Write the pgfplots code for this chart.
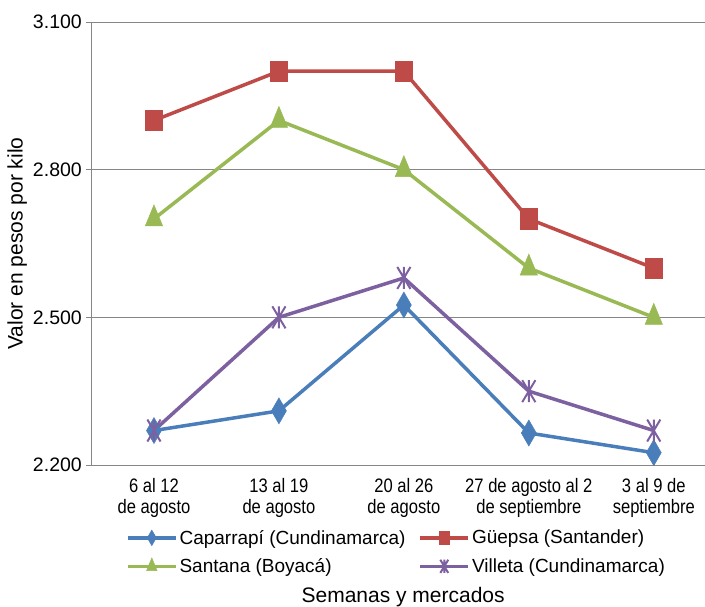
\documentclass[border=0pt]{standalone}
\usepackage{pgfplots}
\pgfplotsset{compat=1.18}
\usepackage{fontspec}
\setmainfont{Liberation Sans}
\newfontfamily\narrowfont[FakeStretch=0.85]{Liberation Sans}

\definecolor{cblue}{RGB}{74,126,187}
\definecolor{cred}{RGB}{190,75,72}
\definecolor{cgreen}{RGB}{152,185,84}
\definecolor{cpurple}{RGB}{125,96,160}
\definecolor{gridgray}{RGB}{134,134,134}

% Excel-style star marker: an X plus a vertical bar
\pgfdeclareplotmark{xstar}{%
  \pgfpathmoveto{\pgfqpoint{-0.6\pgfplotmarksize}{-\pgfplotmarksize}}%
  \pgfpathlineto{\pgfqpoint{0.6\pgfplotmarksize}{\pgfplotmarksize}}%
  \pgfpathmoveto{\pgfqpoint{-0.6\pgfplotmarksize}{\pgfplotmarksize}}%
  \pgfpathlineto{\pgfqpoint{0.6\pgfplotmarksize}{-\pgfplotmarksize}}%
  \pgfpathmoveto{\pgfqpoint{0pt}{-\pgfplotmarksize}}%
  \pgfpathlineto{\pgfqpoint{0pt}{\pgfplotmarksize}}%
  \pgfusepathqstroke}

\begin{document}
\begin{tikzpicture}
\path[use as bounding box] (-91.5pt,-141pt) rectangle (613.5pt,465pt);
\begin{axis}[
  scale only axis,
  width=613.5pt, height=443pt,
  at={(0pt,0pt)}, anchor=south west,
  clip=false,
  xmin=-0.5, xmax=4.41,
  ymin=2200, ymax=3100,
  xtick={0,1,2,3,4},
  xticklabels={{6 al 12\\de agosto},{13 al 19\\de agosto},{20 al 26\\de agosto},{27 de agosto al 2\\de septiembre},{3 al 9 de\\septiembre}},
  xticklabel style={font=\narrowfont\fontsize{19.5pt}{21pt}\selectfont, align=center, inner sep=0pt, yshift=-8pt},
  ytick={2200,2500,2800,3100},
  yticklabels={2.200,2.500,2.800,3.100},
  yticklabel style={font=\fontsize{19.5pt}{22pt}\selectfont, inner sep=0pt, xshift=-4.5pt},
  tick align=outside,
  x axis line style={draw=none},
  axis x line*=bottom,
  axis y line*=left,
  axis line style={gridgray, line width=1pt, -},
  major tick length=5pt,
  xtick style={draw=none},
  ytick style={gridgray, line width=1pt},
  ymajorgrids,
  major grid style={gridgray, line width=1pt},
  ylabel={Valor en pesos por kilo},
  ylabel style={font=\fontsize{21pt}{24pt}\selectfont, at={(axis description cs:-0.121,0.5)}, anchor=center},
  xlabel={Semanas y mercados},
  xlabel style={font=\fontsize{21pt}{24pt}\selectfont, at={(axis description cs:0.508,-0.298)}, anchor=center},
  legend columns=2,
  legend style={draw=none, fill=none, inner sep=0pt, font=\fontsize{19pt}{22pt}\selectfont,
    at={(axis description cs:0.056,-0.142)}, anchor=north west,
    /tikz/every even column/.append style={column sep=11pt},
    row sep=9pt},
  legend cell align=left,
  legend image code/.code={\draw[#1, mark repeat=2, mark phase=2, every mark/.append style={scale=0.6}] plot coordinates {(0pt,0pt) (24pt,0pt) (48pt,0pt)};},
  every axis plot/.append style={line width=3.5pt},
]
\addplot[cblue, mark=diamond*, mark size=10pt, mark options={yscale=1.3, line width=0.5pt}]
  coordinates {(0,2270) (1,2310) (2,2525) (3,2265) (4,2225)};
\addlegendentry{Caparrapí (Cundinamarca)}
\addplot[cred, mark=square*, mark size=8.5pt, mark options={yscale=1.2, line width=0.5pt}]
  coordinates {(0,2900) (1,3000) (2,3000) (3,2700) (4,2600)};
\addlegendentry{Güepsa (Santander)}
\addplot[cgreen, mark=triangle*, mark size=10pt, mark options={yscale=1.4, line width=0.5pt}]
  coordinates {(0,2700) (1,2900) (2,2800) (3,2600) (4,2500)};
\addlegendentry{Santana (Boyacá)}
\addplot[cpurple, mark=xstar, mark size=11pt, mark options={line width=2pt}]
  coordinates {(0,2270) (1,2500) (2,2580) (3,2350) (4,2270)};
\addlegendentry{Villeta (Cundinamarca)}
\end{axis}
\end{tikzpicture}
\end{document}
